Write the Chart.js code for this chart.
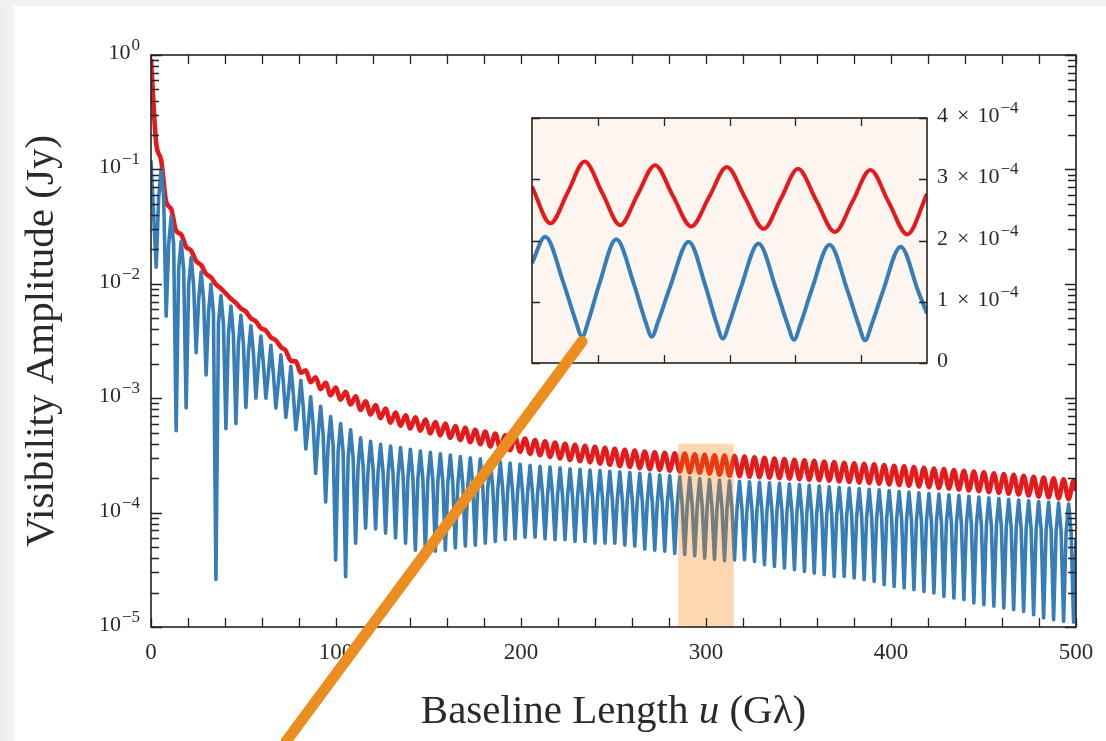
<!DOCTYPE html>
<html><head><meta charset="utf-8">
<script src="https://cdn.jsdelivr.net/npm/chart.js@4.4.0/dist/chart.umd.min.js"></script>
<style>
html,body{margin:0;padding:0;width:1106px;height:741px;overflow:hidden;background:#fff;}
#wrap{position:relative;width:1106px;height:741px;background:#fff;}
#lstrip{position:absolute;left:0;top:0;width:14px;height:741px;background:linear-gradient(90deg,#ececec,#f3f3f3);}
#tstrip{position:absolute;left:0;top:0;width:1106px;height:6px;background:#f1f1f1;}
canvas{position:absolute;left:0;top:0;}
</style></head><body>
<div id="wrap">
<div id="lstrip"></div><div id="tstrip"></div>
<canvas id="main" width="1106" height="741"></canvas>
<canvas id="inset" width="1106" height="741"></canvas>
</div>
<script>
// ---------------- main panel data ----------------
const startU = 0, endU = 500;
// positions of blue minima (= red maxima)
const troughU = [2.8, 8.2, 13.6, 19.0, 24.4, 29.8, 35.1, 40.5, 45.9, 51.3, 56.7, 62.1, 67.5, 72.9, 78.3, 83.7, 89.0, 94.4, 99.8, 105.2, 110.6, 116.0, 121.4, 126.8, 132.2, 137.6, 142.9, 148.3, 153.7, 159.1, 164.5, 169.9, 175.3, 180.7, 186.1, 191.5, 196.8, 202.2, 207.6, 213.0, 218.4, 223.8, 229.2, 234.6, 240.0, 245.4, 250.7, 256.1, 261.5, 266.9, 272.3, 277.7, 283.1, 288.5, 293.9, 299.3, 304.6, 310.0, 315.4, 320.8, 326.2, 331.6, 337.0, 342.4, 347.8, 353.2, 358.5, 363.9, 369.3, 374.7, 380.1, 385.5, 390.9, 396.3, 401.7, 407.1, 412.4, 417.8, 423.2, 428.6, 434.0, 439.4, 444.8, 450.2, 455.6, 461.0, 466.3, 471.7, 477.1, 482.5, 487.9, 493.3, 498.7];
// positions of blue maxima (= red minima)
const peakU = [5.5, 10.9, 16.3, 21.7, 27.1, 32.4, 37.8, 43.2, 48.6, 54.0, 59.4, 64.8, 70.2, 75.6, 81.0, 86.3, 91.7, 97.1, 102.5, 107.9, 113.3, 118.7, 124.1, 129.5, 134.9, 140.2, 145.6, 151.0, 156.4, 161.8, 167.2, 172.6, 178.0, 183.4, 188.8, 194.1, 199.5, 204.9, 210.3, 215.7, 221.1, 226.5, 231.9, 237.3, 242.7, 248.0, 253.4, 258.8, 264.2, 269.6, 275.0, 280.4, 285.8, 291.2, 296.6, 301.9, 307.3, 312.7, 318.1, 323.5, 328.9, 334.3, 339.7, 345.1, 350.5, 355.8, 361.2, 366.6, 372.0, 377.4, 382.8, 388.2, 393.6, 399.0, 404.4, 409.7, 415.1, 420.5, 425.9, 431.3, 436.7, 442.1, 447.5, 452.9, 458.3, 463.6, 469.0, 474.4, 479.8, 485.2, 490.6, 496.0];

const blueStartV = 0.12, blueEndV = 6e-5;
const blueTroughV = [1.4e-2, 5.2e-3, 5.2e-4, 8.2e-4, 2.5e-3, 1.6e-3, 2.6e-5, 5.4e-4, 6.0e-4, 8.3e-4,
 1.0e-3, 1.0e-3, 8.2e-4, 6.8e-4, 5.3e-4, 3.6e-4, 2.2e-4, 1.24e-4, 3.85e-5, 2.75e-5,
 5.4e-5, 7.3e-5, 7.2e-5, 6.6e-5, 6.0e-5, 5.4e-5, 4.7e-5, 4.6e-5, 4.6e-5, 4.7e-5,
 4.9e-5, 5.1e-5, 5.2e-5, 5.4e-5, 5.6e-5, 5.8e-5, 5.9e-5, 6.1e-5, 6.1e-5, 5.9e-5,
 5.8e-5, 5.8e-5, 5.6e-5, 5.6e-5, 5.4e-5, 5.4e-5, 5.4e-5, 5.2e-5, 5.1e-5, 4.8e-5,
 4.7e-5, 4.6e-5, 4.4e-5, 4.3e-5, 4.2e-5, 4.0e-5, 3.9e-5, 3.8e-5, 3.85e-5, 3.87e-5,
 3.75e-5, 3.5e-5, 3.39e-5, 3.28e-5, 3.17e-5, 3.06e-5, 2.96e-5, 2.86e-5, 2.77e-5, 2.77e-5,
 2.68e-5, 2.59e-5, 2.5e-5, 2.34e-5, 2.26e-5, 2.19e-5, 2.12e-5, 2.05e-5, 1.98e-5, 1.85e-5,
 1.79e-5, 1.73e-5, 1.62e-5, 1.57e-5, 1.52e-5, 1.47e-5, 1.42e-5, 1.37e-5, 1.28e-5, 1.2e-5,
 1.16e-5, 1.12e-5, 1.1e-5];
const bluePeakV = [0.10, 0.039, 0.0235, 0.017, 0.0127, 0.0099, 0.0079, 0.0064, 0.0053, 0.0043,
 0.0035, 0.0029, 0.0024, 0.0019, 0.00143, 0.00103, 0.00085, 0.00069, 0.0006, 0.00053,
 0.00045, 0.00042, 0.000395, 0.000382, 0.00037, 0.000358, 0.000345, 0.000336, 0.000327, 0.000318,
 0.000309, 0.000302, 0.000295, 0.000287, 0.000278, 0.000271, 0.000265, 0.000259, 0.000254, 0.00025,
 0.000246, 0.000242, 0.000239, 0.000236, 0.000233, 0.00023, 0.000227, 0.000224, 0.000221, 0.000217,
 0.000213, 0.00021, 0.000206, 0.000202, 0.000198, 0.000195, 0.000193, 0.00019, 0.000188, 0.000186,
 0.000184, 0.000182, 0.00018, 0.000178, 0.000176, 0.000173, 0.000171, 0.000168, 0.000166, 0.000164,
 0.000162, 0.00016, 0.000158, 0.000156, 0.000153, 0.000151, 0.000149, 0.000147, 0.000145, 0.000143,
 0.000141, 0.000139, 0.000137, 0.000135, 0.000133, 0.000131, 0.000129, 0.000127, 0.000125, 0.000123,
 0.000121, 0.000119];
// blue level half-way between each maximum and the neighbouring minima (the shoulders of the dips)
const blueShoulderV = [0.057, 0.022, 0.0134, 0.0097, 0.0072, 0.0056, 0.0045, 0.0036, 0.0030, 0.0025,
 0.0020, 0.00165, 0.00137, 0.00108, 0.00082, 0.00059, 0.00048, 0.00039, 0.00034, 0.0003,
 0.000256, 0.00024, 0.000225, 0.000218, 0.000211, 0.000204, 0.000197, 0.000192, 0.000186, 0.000181,
 0.000176, 0.000172, 0.000168, 0.000164, 0.000158, 0.000154, 0.000151, 0.000148, 0.000145, 0.000142,
 0.00014, 0.000138, 0.000136, 0.000135, 0.000133, 0.000131, 0.000129, 0.000128, 0.000126, 0.000124,
 0.000121, 0.00012, 0.000117, 0.000115, 0.000113, 0.000111, 0.00011, 0.000108, 0.000107, 0.000106,
 0.000105, 0.000104, 0.000103, 0.000101, 0.0001, 0.0000986, 0.0000975, 0.0000958, 0.0000946, 0.0000935,
 0.0000923, 0.0000912, 0.00009, 0.0000889, 0.0000872, 0.0000861, 0.0000849, 0.0000838, 0.0000827, 0.0000815,
 0.0000804, 0.0000792, 0.0000781, 0.000077, 0.0000758, 0.0000747, 0.0000735, 0.0000724, 0.0000713, 0.0000701,
 0.000069, 0.0000678];

const redStartV = 0.92, redEndV = 1.55e-4;
const redPeakV = [0.17, 0.052, 0.029, 0.021, 0.0158, 0.0122, 0.0099, 0.0082, 0.0068, 0.0057,
 0.0047, 0.0039, 0.0032, 0.0026, 0.0021, 0.00175, 0.00152, 0.00136, 0.00124, 0.00114,
 0.00104, 0.00094, 0.00087, 0.00081, 0.00075, 0.00071, 0.00068, 0.00065, 0.00062, 0.00060,
 0.00057, 0.00055, 0.00053, 0.00051, 0.00049, 0.000475, 0.00046, 0.000445, 0.00043, 0.00042,
 0.00041, 0.0004, 0.000392, 0.000384, 0.000376, 0.000368, 0.000361, 0.000354, 0.000348, 0.000342,
 0.000337, 0.000333, 0.00033, 0.000329, 0.000323, 0.00032, 0.000317, 0.000315, 0.000312, 0.000309,
 0.000305, 0.000301, 0.000297, 0.000294, 0.00029, 0.000287, 0.000283, 0.00028, 0.000276, 0.000273,
 0.00027, 0.000267, 0.000264, 0.00026, 0.000257, 0.000254, 0.00025, 0.000247, 0.000243, 0.00024,
 0.000236, 0.000232, 0.000229, 0.000225, 0.000221, 0.000217, 0.000214, 0.00021, 0.000206, 0.000202,
 0.000199, 0.000195, 0.000191];
const redTroughV = [0.12, 0.045, 0.027, 0.0195, 0.0146, 0.0114, 0.0091, 0.0074, 0.0061, 0.0050,
 0.0041, 0.0034, 0.0028, 0.00212, 0.00167, 0.00138, 0.0012, 0.00106, 0.00097, 0.00088,
 0.00079, 0.00072, 0.00067, 0.00061, 0.000575, 0.000543, 0.00052, 0.000492, 0.000473, 0.00045,
 0.000431, 0.000412, 0.000397, 0.000379, 0.000365, 0.000351, 0.00034, 0.000326, 0.000317, 0.000307,
 0.000298, 0.000289, 0.000281, 0.000275, 0.000268, 0.000262, 0.000255, 0.000251, 0.000245, 0.000239,
 0.000236, 0.000232, 0.000228, 0.000225, 0.000223, 0.000219, 0.000214, 0.00021, 0.000208, 0.000206,
 0.000204, 0.000202, 0.0002, 0.000198, 0.000196, 0.000194, 0.000192, 0.00019, 0.000187, 0.000185,
 0.000183, 0.000181, 0.000179, 0.000176, 0.000174, 0.000172, 0.000169, 0.000167, 0.000164, 0.000162,
 0.000159, 0.000156, 0.000154, 0.000151, 0.000149, 0.000146, 0.000144, 0.000141, 0.000138, 0.000136,
 0.000133, 0.000131];

const xTickLabels = [0, 100, 200, 300, 400, 500];
const xTickMarkStep = 20;
const yDecades = [0, -1, -2, -3, -4, -5];
const zoomBox = {u0: 285, u1: 315, top: 4e-4};

// ---------------- inset data ----------------
const insetRedU = [285.0, 286.4, 287.7, 289.0, 290.35, 291.7, 293.0, 294.35, 295.7, 297.1, 298.45, 299.8, 301.2, 302.6, 303.9, 305.2, 306.6, 308.0, 309.35, 310.7, 312.1, 313.5, 315.0];
const insetRedV = [2.88, 2.28, 2.78, 3.29, 2.77, 2.25, 2.74, 3.23, 2.73, 2.23, 2.71, 3.20, 2.69, 2.19, 2.68, 3.17, 2.65, 2.14, 2.64, 3.15, 2.62, 2.10, 2.76];
const insetBlueU = [285.0, 286.0, 287.4, 288.3, 288.8, 289.3, 290.1, 291.4, 292.75, 293.6, 294.1, 294.6, 295.5, 296.9, 298.2, 299.0, 299.5, 300.0, 300.85, 302.2, 303.55, 304.4, 304.9, 305.4, 306.25, 307.6, 308.95, 309.8, 310.3, 310.8, 311.65, 313.0, 314.35, 315.0];
const insetBlueV = [1.63, 2.06, 1.30, 0.70, 0.43, 0.70, 1.28, 2.02, 1.28, 0.69, 0.43, 0.69, 1.25, 1.98, 1.24, 0.66, 0.40, 0.66, 1.22, 1.95, 1.20, 0.64, 0.38, 0.64, 1.20, 1.93, 1.19, 0.63, 0.37, 0.63, 1.17, 1.90, 1.16, 0.81];
const insetScale = 1e-4;
const insetXTickLabels = [290, 300, 310];
const insetXTickMarks = [290, 295, 300, 305, 310];
const insetYMantissa = [0, 1, 2, 3, 4];
const pointerFrom = {u: 288.8, v: 0.35e-4};   // inset coordinates
const pointerTo = {u: 73, v: 1e-6};           // main-panel coordinates

// ---------------- styling ----------------
const BLUE = '#377eb8', RED = '#e41a1c', ORANGE = '#ec8d1f';
const INK = '#2a2a2a';
const SERIF = '"Liberation Serif", "DejaVu Serif", serif';

function buildRed() {
  const pts = [{x: startU, y: redStartV}];
  for (let i = 0; i < troughU.length; i++) {
    pts.push({x: troughU[i], y: redPeakV[i]});
    if (i < peakU.length) pts.push({x: peakU[i], y: redTroughV[i]});
  }
  pts.push({x: endU, y: redEndV});
  return pts;
}
function buildBlue() {
  const pts = [{x: startU, y: blueStartV}];
  for (let i = 0; i < troughU.length; i++) {
    pts.push({x: troughU[i], y: blueTroughV[i]});
    if (i < peakU.length) {
      pts.push({x: (troughU[i] + peakU[i]) / 2, y: blueShoulderV[i]});
      pts.push({x: peakU[i], y: bluePeakV[i]});
      pts.push({x: (peakU[i] + troughU[i + 1]) / 2, y: blueShoulderV[i]});
    }
  }
  pts.push({x: endU, y: blueEndV});
  return pts;
}
function zipXY(us, vs, s) { return us.map((u, i) => ({x: u, y: vs[i] * s})); }

function drawPow(ctx, base, sup, x, y, align) {
  ctx.font = '22px ' + SERIF; const bw = ctx.measureText(base).width;
  ctx.font = '17px ' + SERIF; const sw = sup ? ctx.measureText(sup).width : 0;
  const left = align === 'right' ? x - bw - sw - (sup ? 1 : 0) : x;
  ctx.textAlign = 'left'; ctx.textBaseline = 'alphabetic'; ctx.fillStyle = INK;
  ctx.font = '22px ' + SERIF; ctx.fillText(base, left, y + 4);
  if (sup) { ctx.font = '17px ' + SERIF; ctx.fillText(sup, left + bw + 1, y - 5); }
  return bw + sw + 1;
}
function drawSci(ctx, m, x, y) { // "m × 10^-4" left-aligned at x
  ctx.font = '22px ' + SERIF; ctx.fillStyle = INK; ctx.textAlign = 'left'; ctx.textBaseline = 'alphabetic';
  const mw = ctx.measureText(String(m)).width;
  ctx.fillText(String(m), x, y + 4);
  const tx = x + mw + 9;
  ctx.fillText('\u00d7', tx, y + 4);
  const xw = ctx.measureText('\u00d7').width;
  drawPow(ctx, '10', '\u22124', tx + xw + 8, y, 'left');
}

const mainDeco = {
  id: 'mainDeco',
  afterDatasetsDraw(chart) {
    const {ctx, chartArea: a, scales: {x, y}} = chart;
    ctx.save();
    const xl = x.getPixelForValue(zoomBox.u0), xr = x.getPixelForValue(zoomBox.u1);
    const yt = y.getPixelForValue(zoomBox.top);
    ctx.fillStyle = 'rgba(255,127,0,0.30)';
    ctx.fillRect(xl, yt, xr - xl, a.bottom - yt);
    ctx.strokeStyle = '#222'; ctx.lineWidth = 1.6;
    ctx.strokeRect(a.left, a.top, a.right - a.left, a.bottom - a.top);
    ctx.lineWidth = 1.3; ctx.beginPath();
    for (let u = x.min; u <= x.max; u += xTickMarkStep) {
      const px = Math.round(x.getPixelForValue(u)) + 0.5;
      ctx.moveTo(px, a.bottom); ctx.lineTo(px, a.bottom - 9);
      ctx.moveTo(px, a.top); ctx.lineTo(px, a.top + 9);
    }
    for (const e of yDecades) {
      for (let m = 1; m <= 9; m++) {
        const v = m * Math.pow(10, e);
        if (v > 1.0000001) continue;
        const py = Math.round(y.getPixelForValue(v)) + 0.5;
        const L = m === 1 ? 11 : 8;
        ctx.moveTo(a.left, py); ctx.lineTo(a.left + L, py);
        ctx.moveTo(a.right, py); ctx.lineTo(a.right - L, py);
      }
    }
    ctx.stroke();
    for (const e of yDecades) {
      const py = y.getPixelForValue(Math.pow(10, e));
      drawPow(ctx, '10', e === 0 ? '0' : '\u2212' + (-e), a.left - 11, py, 'right');
    }
    ctx.restore();
  },
  afterDraw(chart) {
    const {ctx, chartArea: a} = chart;
    ctx.save(); ctx.fillStyle = INK;
    const fs = '41px ';
    const parts = [['Baseline Length ', 'normal'], ['u', 'italic'], [' (G\u03bb)', 'normal']];
    let tw = 0; const ws = [];
    for (const [t, st] of parts) { ctx.font = st + ' ' + fs + SERIF; const w = ctx.measureText(t).width; ws.push(w); tw += w; }
    let cx = (a.left + a.right) / 2 - tw / 2;
    ctx.textBaseline = 'alphabetic'; ctx.textAlign = 'left';
    parts.forEach(([t, st], i) => { ctx.font = st + ' ' + fs + SERIF; ctx.fillText(t, cx, 723); cx += ws[i]; });
    ctx.translate(53, (a.top + a.bottom) / 2); ctx.rotate(-Math.PI / 2);
    ctx.font = fs + SERIF; ctx.textAlign = 'center';
    ctx.fillText('Visibility Amplitude (Jy)', 0, 0);
    ctx.restore();
  }
};

const mainChart = new Chart(document.getElementById('main'), {
  type: 'line',
  data: {
    datasets: [
      {data: buildBlue(), borderColor: BLUE, borderWidth: 3.6, pointRadius: 0, tension: 0, fill: false, borderJoinStyle: 'round'},
      {data: buildRed(), borderColor: RED, borderWidth: 4.6, pointRadius: 0, cubicInterpolationMode: 'monotone', fill: false}
    ]
  },
  options: {
    responsive: false, animation: false, devicePixelRatio: 1,
    layout: {padding: {left: 151, top: 55, right: 30, bottom: 0}},
    plugins: {legend: {display: false}, tooltip: {enabled: false}},
    scales: {
      x: {type: 'linear', min: 0, max: 500, position: 'bottom',
          grid: {display: false, drawTicks: false}, border: {display: false},
          ticks: {stepSize: 100, autoSkip: false, maxRotation: 0, padding: 12, color: INK,
                  font: {family: SERIF, size: 23},
                  callback: v => xTickLabels.includes(v) ? String(v) : ''},
          afterFit(s) { s.height = 114; }},
      y: {type: 'logarithmic', min: 1e-5, max: 1, display: false}
    }
  },
  plugins: [mainDeco]
});

const insetDeco = {
  id: 'insetDeco',
  beforeDatasetsDraw(chart) {
    const {ctx, chartArea: a} = chart;
    ctx.save(); ctx.fillStyle = '#fdf5ef';
    ctx.fillRect(a.left, a.top, a.right - a.left, a.bottom - a.top); ctx.restore();
  },
  afterDatasetsDraw(chart) {
    const {ctx, chartArea: a, scales: {x, y}} = chart;
    ctx.save();
    ctx.strokeStyle = '#222'; ctx.lineWidth = 1.6;
    ctx.strokeRect(a.left, a.top, a.right - a.left, a.bottom - a.top);
    ctx.lineWidth = 1.3; ctx.beginPath();
    for (const u of insetXTickMarks) {
      const px = Math.round(x.getPixelForValue(u)) + 0.5;
      ctx.moveTo(px, a.bottom); ctx.lineTo(px, a.bottom - 8);
      ctx.moveTo(px, a.top); ctx.lineTo(px, a.top + 8);
    }
    for (const m of insetYMantissa) {
      const py = Math.round(y.getPixelForValue(m * insetScale)) + 0.5;
      ctx.moveTo(a.left, py); ctx.lineTo(a.left + 8, py);
      ctx.moveTo(a.right, py); ctx.lineTo(a.right - 8, py);
    }
    ctx.stroke();
    for (const m of insetYMantissa) {
      const py = y.getPixelForValue(m * insetScale);
      if (m === 0) drawPow(ctx, '0', '', a.right + 10, py, 'left');
      else drawSci(ctx, m, a.right + 10, py);
    }
    ctx.restore();
  },
  afterDraw(chart) {
    const {ctx, scales: {x, y}} = chart;
    const mx = mainChart.scales.x, my = mainChart.scales.y;
    ctx.save();
    ctx.strokeStyle = ORANGE; ctx.lineWidth = 11; ctx.lineCap = 'round';
    ctx.beginPath();
    ctx.moveTo(x.getPixelForValue(pointerFrom.u), y.getPixelForValue(pointerFrom.v));
    ctx.lineTo(mx.getPixelForValue(pointerTo.u), my.getPixelForValue(pointerTo.v));
    ctx.stroke(); ctx.restore();
  }
};

new Chart(document.getElementById('inset'), {
  type: 'line',
  data: {
    datasets: [
      {data: zipXY(insetBlueU, insetBlueV, insetScale), borderColor: BLUE, borderWidth: 4, pointRadius: 0, cubicInterpolationMode: 'monotone', fill: false},
      {data: zipXY(insetRedU, insetRedV, insetScale), borderColor: RED, borderWidth: 4, pointRadius: 0, cubicInterpolationMode: 'monotone', fill: false}
    ]
  },
  options: {
    responsive: false, animation: false, devicePixelRatio: 1,
    layout: {padding: {left: 532, top: 78, right: 179, bottom: 378}},
    plugins: {legend: {display: false}, tooltip: {enabled: false}},
    scales: {
      x: {type: 'linear', min: 285, max: 315, position: 'top',
          grid: {display: false, drawTicks: false}, border: {display: false},
          ticks: {stepSize: 10, includeBounds: false, autoSkip: false, maxRotation: 0, padding: 13, color: INK,
                  font: {family: SERIF, size: 24},
                  callback: v => insetXTickLabels.includes(v) ? String(v) : ''},
          afterFit(s) { s.height = 40; }},
      y: {type: 'linear', min: 0, max: 4e-4, display: false}
    }
  },
  plugins: [insetDeco]
});
</script>
</body></html>
